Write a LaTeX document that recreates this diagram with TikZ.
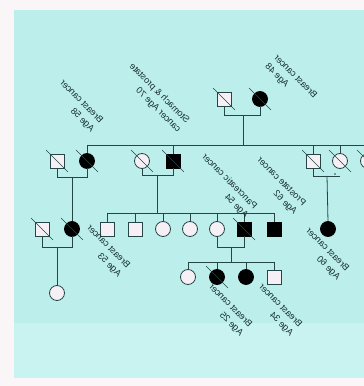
\documentclass[tikz,border=0pt]{standalone}
\usepackage{fontspec}
\usepackage{graphicx}
\setmainfont{Liberation Sans}
\newcommand\mlbl[2][l]{\reflectbox{\begin{tabular}{@{}#1@{}}#2\end{tabular}}}
\begin{document}
\begin{tikzpicture}[x=1pt,y=1pt]
\definecolor{bgc}{RGB}{188,239,236}
\definecolor{bgc2}{RGB}{200,243,240}
\definecolor{edgec}{RGB}{250,246,248}
\definecolor{linec}{RGB}{38,70,70}
\definecolor{textc}{RGB}{22,48,48}
\definecolor{shapefill}{RGB}{246,240,246}
\tikzset{
 ind/.style={draw=linec, fill=shapefill, line width=0.8pt, inner sep=0pt, outer sep=0pt},
 male/.style={ind, rectangle, minimum size=14pt},
 female/.style={ind, circle, minimum size=15pt},
 aff/.style={fill=black, draw=black},
 lbl/.style={font=\fontsize{9.2}{12.5}\selectfont, text=textc, rotate=-45, inner sep=0pt},
 ln/.style={draw=linec, line width=0.8pt},
 dead/.style={draw=linec, line width=0.7pt}
}
\useasboundingbox (0,0) rectangle (364,386);
\clip (0,0) rectangle (364,386);
\fill[edgec] (0,0) rectangle (364,386);
\fill[bgc] (14,63) rectangle (364,376);
\fill[bgc2] (14,8) rectangle (364,63);
% generation 1
\node[male] (g1m) at (224,287) {};
\node[female,aff] (g1f) at (260,287) {};
% generation 2
\node[male] (A) at (57,225) {};
\node[female,aff] (B) at (87,225) {};
\node[female] (C) at (142,225) {};
\node[male,aff] (D) at (173,225) {};
\node[male] (E) at (313,225) {};
\node[female] (F) at (340,225) {};
\node[female] (G) at (368,225) {};
% generation 3
\node[male] (L) at (42,157) {};
\node[female,aff] (H) at (72,157) {};
\node[male] (k1) at (107,157) {};
\node[male] (k2) at (135,157) {};
\node[female] (k3) at (163,157) {};
\node[female] (k4) at (190,157) {};
\node[female] (J) at (217,157) {};
\node[male,aff] (K) at (244,157) {};
\node[male,aff] (k7) at (274,157) {};
\node[female,aff] (M) at (328,157) {};
% generation 4
\node[female] (I) at (57,93) {};
\node[female] (n1) at (188,109) {};
\node[female,aff] (n2) at (217,109) {};
\node[female,aff] (n3) at (246,109) {};
\node[male] (n4) at (274,109) {};
% connector coordinates
\coordinate (c1) at (243,271);
\coordinate (s1) at (243,241);
\coordinate (s1r) at (370,241);
\coordinate (cAB) at (72,209);
\coordinate (cCD) at (157,211);
\coordinate (s2) at (157,173);
\coordinate (cEF) at (327,210);
\coordinate (cLH) at (57,139);
\coordinate (cJK) at (231,139);
\coordinate (s3) at (231,124);
% gen1 couple and sibship
\draw[ln] (g1m.south) -- (g1m.south |- c1) -- (g1f.south |- c1) -- (g1f.south);
\draw[ln] (c1) -- (s1);
\draw[ln] (B.north |- s1) -- (s1r);
\foreach \n in {B,D,E,F} \draw[ln] (\n.north |- s1) -- (\n.north);
% A-B
\draw[ln] (A.south) -- (A.south |- cAB) -- (B.south |- cAB) -- (B.south);
\draw[ln] (cAB) -- (H.north);
% C-D
\draw[ln] (C.south) -- (C.south |- cCD) -- (D.south |- cCD) -- (D.south);
\draw[ln] (cCD) -- (s2);
\draw[ln] (k1.north |- s2) -- (k7.north |- s2);
\foreach \n in {k1,k2,k3,k4,J,K,k7} \draw[ln] (\n.north |- s2) -- (\n.north);
% E-F
\draw[ln] (E.south) -- (E.south |- cEF) -- (F.south |- cEF);
\draw[ln] (cEF) -- (M.north);
\fill[linec] (335,212) circle (0.8);
% L-H
\draw[ln] (L.south) -- (L.south |- cLH) -- (H.south |- cLH) -- (H.south);
\draw[ln] (cLH) -- (I.north);
% J-K
\draw[ln] (J.south) -- (J.south |- cJK) -- (K.south |- cJK) -- (K.south);
\draw[ln] (cJK) -- (s3);
\draw[ln] (n1.north |- s3) -- (n4.north |- s3);
\foreach \n in {n1,n2,n3,n4} \draw[ln] (\n.north |- s3) -- (\n.north);
% deceased marks
\foreach \n in {g1m,g1f,A,B,C,D,E,F,G,L,H,K,n2}
  \draw[dead] ([shift={(-11,11)}]\n.center) -- ([shift={(11,-11)}]\n.center);
% labels
\node[lbl] (t1) at (291,305) {\mlbl[r]{Breast cancer\\Age 48}};
\node[lbl] (t2) at (77,280) {\mlbl{Breast cancer\\Age 58}};
\node[lbl] (t3) at (155,288) {\mlbl{Stomach \& prostate\\cancer Age 70}};
\node[lbl] (t4) at (225,200) {\mlbl{Pancreatic cancer\\Age 54}};
\node[lbl] (t5) at (277,200) {\mlbl{Prostate cancer\\Age 62}};
\node[lbl] (t6) at (104,135) {\mlbl{Breast cancer\\Age 53}};
\node[lbl] (t7) at (323,132) {\mlbl{Breast cancer\\Age 60}};
\node[lbl] (t8) at (226,76) {\mlbl{Breast cancer\\Age 25}};
\node[lbl] (t9) at (276,76) {\mlbl{Breast cancer\\Age 34}};
\end{tikzpicture}
\end{document}
